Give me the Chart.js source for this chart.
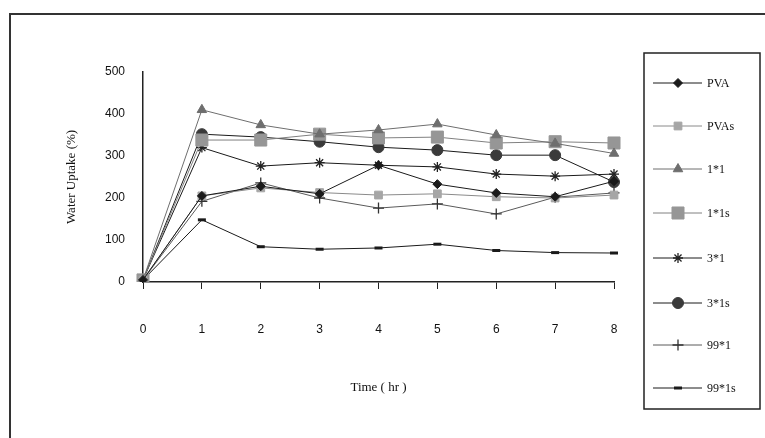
<!DOCTYPE html>
<html><head><meta charset="utf-8">
<script src="https://cdn.jsdelivr.net/npm/chart.js@4/dist/chart.umd.min.js"></script>
<style>
html,body{margin:0;padding:0;background:#fff;}
#wrap{position:relative;width:765px;height:438px;}
#frame{position:absolute;left:9px;top:13px;width:756px;height:425px;border-left:2px solid #333;border-top:2px solid #333;box-sizing:border-box;}
canvas{position:absolute;left:0;top:0;}
</style></head>
<body><div id="wrap"><div id="frame"></div><canvas id="c" width="765" height="438"></canvas></div>
<script>
const hours = ['0','1','2','3','4','5','6','7','8'];
const PVA    = [5, 205, 228, 210, 278, 233, 212, 203, 240];
const PVAs   = [5, 205, 224, 213, 207, 210, 203, 200, 207];
const s1x1   = [5, 410, 374, 352, 362, 376, 350, 330, 306];
const s1x1s  = [5, 338, 338, 352, 343, 345, 331, 334, 331];
const s3x1   = [5, 320, 276, 284, 278, 274, 257, 252, 257];
const s3x1s  = [5, 352, 345, 334, 321, 314, 302, 302, 238];
const s99x1  = [5, 192, 236, 200, 176, 186, 162, 202, 212];
const s99x1s = [5, 148, 84, 78, 81, 90, 75, 70, 69];
const seriesNames = ['PVA','PVAs','1*1','1*1s','3*1','3*1s','99*1','99*1s'];
const yTicks = [0,100,200,300,400,500];

function ds(label, data, line, fill, style, radius, bw){
  return {label, data, borderColor: line, borderWidth: 1, pointStyle: style,
    pointRadius: radius, pointBackgroundColor: fill, pointBorderColor: fill,
    pointBorderWidth: bw, tension: 0, fill: false};
}
const datasets = [
  ds(seriesNames[0], PVA,   '#1a1a1a', '#1a1a1a', 'rectRot', 4.5, 1),
  ds(seriesNames[1], PVAs,  '#8a8a8a', '#a6a6a6', 'rect', 5.5, 1),
  ds(seriesNames[2], s1x1,  '#6e6e6e', '#6e6e6e', 'triangle', 5.5, 1),
  ds(seriesNames[3], s1x1s, '#808080', '#969696', 'rect', 8.5, 1),
  ds(seriesNames[4], s3x1,  '#1a1a1a', '#222222', 'star', 5, 1.3),
  ds(seriesNames[5], s3x1s, '#1a1a1a', '#3a3a3a', 'circle', 5.5, 1),
  ds(seriesNames[6], s99x1, '#5a5a5a', '#333333', 'cross', 5.5, 1.3),
  ds(seriesNames[7], s99x1s,'#1a1a1a', '#1a1a1a', 'line', 4, 3)
];

const legendBox = {
  id: 'legendBox',
  afterDraw(chart){
    const ctx = chart.ctx;
    const L = 644, T = 53, R = 760, B = 409;
    ctx.save();
    ctx.strokeStyle = '#222'; ctx.lineWidth = 1.5;
    ctx.strokeRect(L, T, R - L, B - T);
    const ys = [83, 126, 169, 213, 258, 303, 345, 388];
    ctx.font = '12px "Liberation Serif"';
    ctx.textBaseline = 'middle';
    chart.data.datasets.forEach((d, i) => {
      const y = ys[i];
      ctx.strokeStyle = d.borderColor; ctx.lineWidth = 1;
      ctx.beginPath(); ctx.moveTo(653, y); ctx.lineTo(702, y); ctx.stroke();
      ctx.fillStyle = d.pointBackgroundColor; ctx.strokeStyle = d.pointBorderColor;
      ctx.lineWidth = d.pointBorderWidth;
      Chart.helpers.drawPoint(ctx, {pointStyle: d.pointStyle, radius: d.pointRadius, borderWidth: d.pointBorderWidth, rotation: 0}, 678, y);
      ctx.fillStyle = '#111';
      ctx.fillText(d.label, 707, y + 1);
    });
    ctx.restore();
  }
};

new Chart(document.getElementById('c'), {
  type: 'line',
  data: {labels: hours, datasets},
  plugins: [legendBox],
  options: {
    responsive: false, animation: false,
    layout: {padding: {left: 0, right: 151, top: 72, bottom: 0}},
    plugins: {legend: {display: false}, tooltip: {enabled: false}},
    scales: {
      x: {
        offset: false,
        afterFit(s){ s.height = 156; },
        grid: {drawOnChartArea: false, tickLength: 7, color: '#222', tickColor: '#222'},
        border: {color: '#222', width: 1.5},
        ticks: {padding: 33, color: '#111', font: {family: '"Liberation Sans"', size: 12}, maxRotation: 0},
        title: {display: true, text: 'Time ( hr )', color: '#111', font: {family: '"Liberation Serif"', size: 13}, padding: {top: 0, bottom: 43}}
      },
      y: {
        min: 0, max: 500,
        afterFit(s){ s.width = 143; },
        afterBuildTicks(s){ s.ticks = yTicks.map(v => ({value: v})); },
        grid: {drawOnChartArea: false, drawTicks: false},
        border: {color: '#222', width: 1.5},
        ticks: {padding: 18, color: '#111', font: {family: '"Liberation Sans"', size: 12}},
        title: {display: true, text: 'Water Uptake (%)', color: '#111', font: {family: '"Liberation Serif"', size: 13}, padding: {top: 64, bottom: 0}}
      }
    }
  }
});
</script></body></html>
